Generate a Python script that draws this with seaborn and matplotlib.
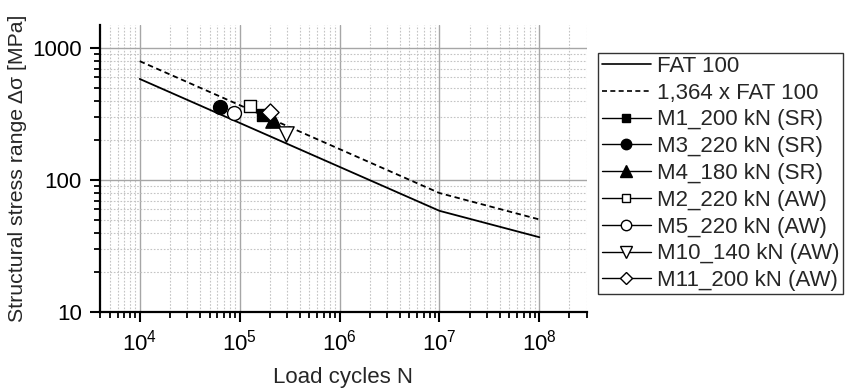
import matplotlib
matplotlib.use("Agg")
import matplotlib.pyplot as plt
from matplotlib.lines import Line2D
from matplotlib.ticker import FuncFormatter, NullFormatter
import seaborn as sns

# FAT 100 design curve and the 1,364 x FAT 100 curve
fat_cycles = [1e4, 1e7, 1e8]
fat_stress = [585, 58.5, 36.9]
fat_factor_stress = [798, 79.8, 50.3]

# test results
specimens = ["M1_200 kN (SR)", "M3_220 kN (SR)", "M4_180 kN (SR)",
             "M2_220 kN (AW)", "M5_220 kN (AW)", "M10_140 kN (AW)",
             "M11_200 kN (AW)"]
test_cycles = [171000, 63000, 214000, 126000, 87000, 292000, 200000]
test_stress = [310, 359, 285, 364, 324, 223, 329]

# styling per specimen
marker_shapes = ["s", "o", "^", "s", "o", "v", "D"]
marker_faces = ["black", "black", "black", "white", "white", "white", "white"]
marker_sizes = [9.3, 10, 11, 9.3, 10, 11, 8.7]
legend_sizes = [6.2, 7.5, 8, 6.2, 7.5, 8, 6.5]

sns.set_theme(style="white")
plt.rcParams["font.family"] = ["Liberation Sans", "DejaVu Sans"]
plt.rcParams["mathtext.fontset"] = "custom"
plt.rcParams["mathtext.rm"] = "Liberation Sans"
plt.rcParams["mathtext.it"] = "Liberation Sans:italic"
plt.rcParams["mathtext.default"] = "regular"

FS = 16

fig = plt.figure(figsize=(8.5, 3.92), dpi=100)
ax = fig.add_axes([0.1176, 0.2041, 0.5730, 0.7321])

sns.lineplot(x=fat_cycles, y=fat_stress, color="black", lw=1.3, ax=ax,
             estimator=None, sort=False)
sns.lineplot(x=fat_cycles, y=fat_factor_stress, color="black", lw=1.3,
             ax=ax, estimator=None, sort=False, dashes=False,
             linestyle=(0, (3, 2)))

for n, s, m, fc, ms in zip(test_cycles, test_stress, marker_shapes,
                           marker_faces, marker_sizes):
    sns.scatterplot(x=[n], y=[s], marker=m, color=fc, edgecolor="black",
                    linewidth=1, s=ms ** 2, ax=ax, zorder=3)

ax.set_xscale("log")
ax.set_yscale("log")
ax.set_xlim(4e3, 3e8)
ax.set_ylim(10, 1500)
ax.yaxis.set_major_formatter(FuncFormatter(lambda v, p: f"{v:.0f}"))
ax.yaxis.set_minor_formatter(NullFormatter())

ax.grid(True, which="major", color="#a6a6a6", lw=1.0, ls="-")
ax.grid(True, which="minor", color="#c4c4c4", lw=0.8, ls=(0, (1.5, 1.5)))
ax.set_axisbelow(True)

for side in ["top", "right"]:
    ax.spines[side].set_visible(False)
for side in ["left", "bottom"]:
    ax.spines[side].set_color("black")
    ax.spines[side].set_linewidth(1.6)

ax.tick_params(which="major", direction="out", length=7, width=1.5,
               colors="black", labelsize=FS, pad=6, left=True, bottom=True)
ax.tick_params(which="minor", direction="out", length=4.5, width=1.3,
               colors="black", left=True, bottom=True)

ax.set_xlabel("Load cycles N", fontsize=FS, labelpad=8)
ax.set_ylabel("Structural stress range Δσ [MPa]", fontsize=15.3, labelpad=4)

handles = [
    Line2D([0], [0], color="black", lw=1.2),
    Line2D([0], [0], color="black", lw=1.2, ls=(0, (3, 2))),
]
for m, fc, ms in zip(marker_shapes, marker_faces, legend_sizes):
    handles.append(Line2D([0], [0], color="black", lw=1, marker=m,
                          markerfacecolor=fc, markeredgecolor="black",
                          markersize=ms))
labels = ["FAT 100", "1,364 x FAT 100"] + specimens

leg = fig.legend(handles, labels, loc="upper left",
                 bbox_to_anchor=(0.704, 0.866), fontsize=FS,
                 frameon=True, fancybox=False, handlelength=2.2,
                 handletextpad=0.3, borderpad=0.15, labelspacing=0.26,
                 borderaxespad=0)
leg.get_frame().set_edgecolor("black")
leg.get_frame().set_linewidth(1.0)

fig.savefig("out.png", dpi=100)
